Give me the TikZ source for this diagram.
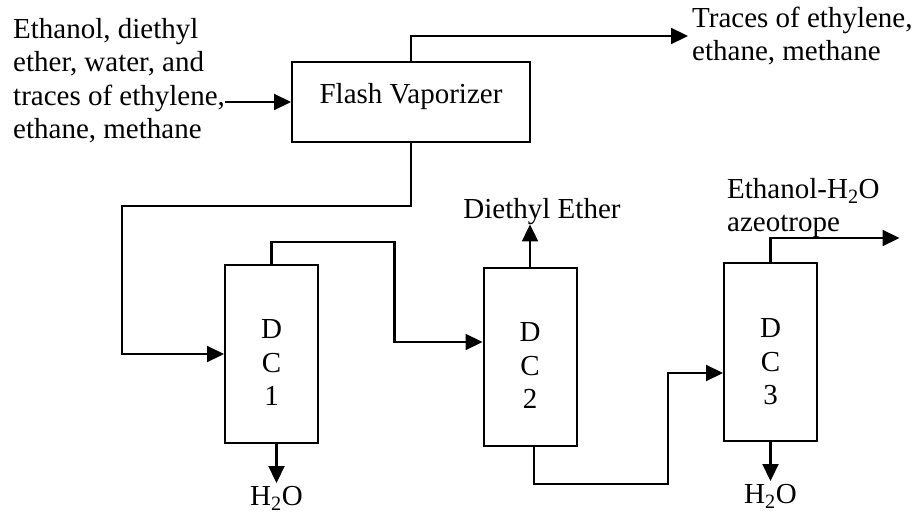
\documentclass[tikz,border=0pt]{standalone}
\usepackage{fontspec}
\setmainfont{Liberation Serif}
\usetikzlibrary{arrows.meta,positioning}

\begin{document}
\begin{tikzpicture}[
  x=1pt, y=-1pt,
  font=\fontsize{29pt}{33.5pt}\selectfont,
  box/.style={draw,line width=2pt,inner sep=0pt},
  column/.style={box,minimum width=93pt,minimum height=178pt},
  colname/.style={align=center,inner sep=0pt},
  stream/.style={align=left,inner sep=0pt},
  water/.style={inner sep=3.5pt},
  arrow/.style={-{Triangle[length=17pt,width=16pt]},line width=2.2pt}
]
  \useasboundingbox (0,0) rectangle (919,514);
  % units
  \node[box,minimum width=238pt,minimum height=80pt,text height=20pt,text depth=18pt] (flash) at (411,102) {Flash Vaporizer};
  \node[column] (dc1) at (271.5,354) {};
  \node[column] (dc2) at (530,357) {};
  \node[column] (dc3) at (770.5,352) {};
  \node[colname] (dc1name) at ([yshift=-9pt]dc1.center) {D\\C\\1};
  \node[colname] (dc2name) at ([yshift=-9pt]dc2.center) {D\\C\\2};
  \node[colname] (dc3name) at ([yshift=-10pt]dc3.center) {D\\C\\3};
  % streams
  \node[stream,anchor=north west] (feed) at (13,18) {Ethanol, diethyl\\ether, water, and\\traces of ethylene,\\ethane, methane};
  \node[stream,anchor=west,inner sep=4pt] (gas) at (688,36) {Traces of ethylene,\\ethane, methane};
  \node[inner sep=0pt,anchor=base] (ether) at (542,218) {Diethyl Ether};
  \node[stream,anchor=north west] (azeo) at (727,178) {Ethanol-H\textsubscript{2}O\\azeotrope};
  \node[water,below=39pt of dc1,xshift=5pt] (w1) {H\textsubscript{2}O};
  \node[water,below=39pt of dc3] (w3) {H\textsubscript{2}O};
  % connections
  \draw[arrow] (feed.east |- flash.west) -- (flash.west);
  \draw[arrow] (flash.north) |- (gas.west);
  \draw[arrow] (flash.south) -- ++(0,63) -| ([xshift=-102pt]dc1.west) -- (dc1.west);
  \draw[arrow] (dc1.north) -- ++(0,-22) -| ([xshift=-88pt,yshift=15pt]dc2.west) -- ([yshift=15pt]dc2.west);
  \draw[arrow] (dc2.north) -- (dc2.north |- ether.south);
  \draw[arrow] ([xshift=4pt]dc2.south) -- ++(0,37) -| ([xshift=-55pt,yshift=-21pt]dc3.west) -- ([yshift=-21pt]dc3.west);
  \draw[arrow] (dc3.north) -- ++(0,-24) -- ++(129,0);
  \draw[arrow] (w1.north |- dc1.south) -- (w1.north);
  \draw[arrow] (dc3.south) -- (w3.north);
\end{tikzpicture}
\end{document}
